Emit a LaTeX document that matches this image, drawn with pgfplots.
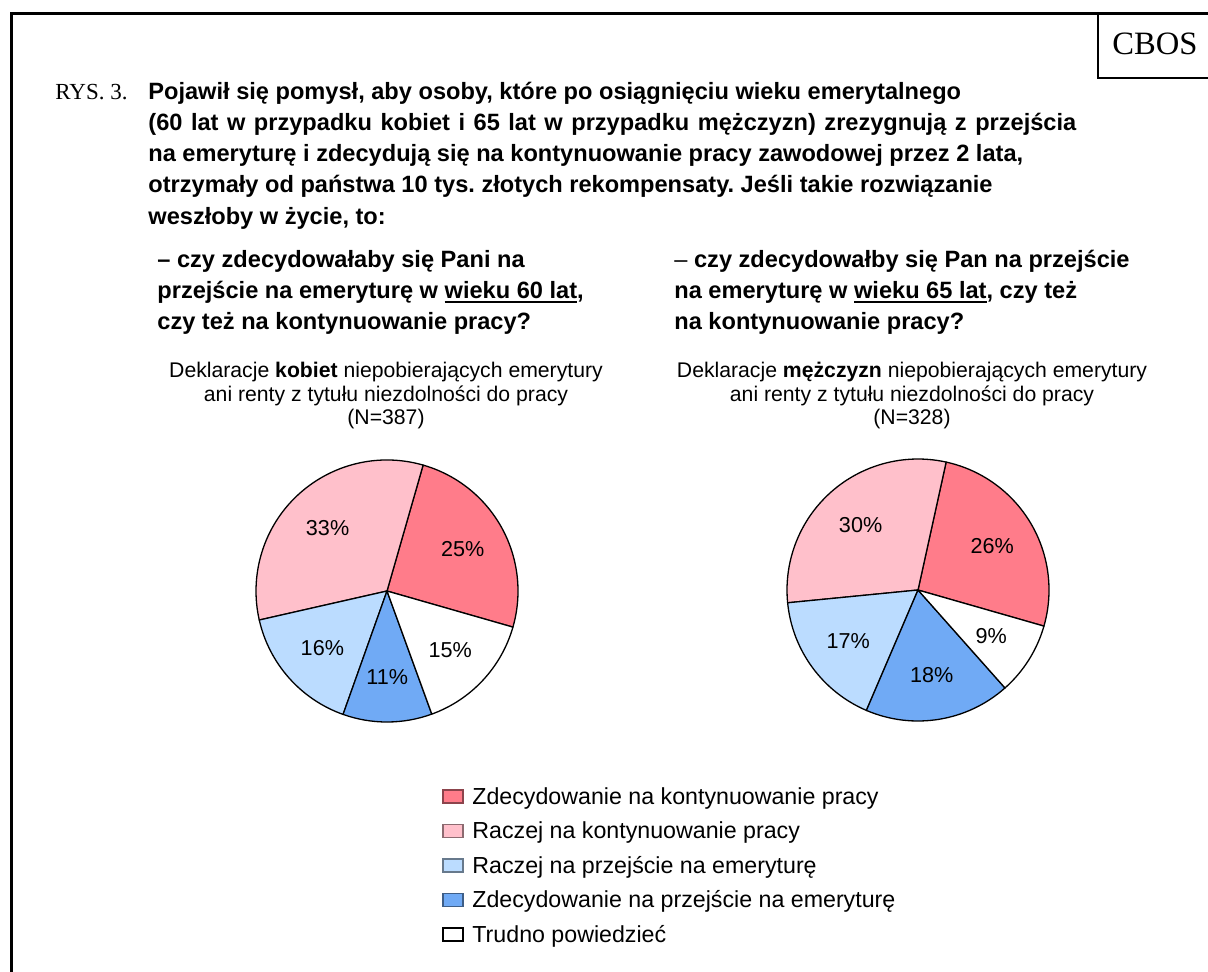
\documentclass[border=0pt]{standalone}
\usepackage{pgfplots}
\pgfplotsset{compat=1.18}
\usepackage{pgfplotstable}
\usepackage{fontspec}
\setmainfont{Liberation Sans}
\newfontfamily\timesf{Liberation Serif}
\frenchspacing

\definecolor{cRed}{RGB}{255,124,138}
\definecolor{cPink}{RGB}{255,192,203}
\definecolor{cLBlue}{RGB}{187,220,255}
\definecolor{cDBlue}{RGB}{112,170,245}

% shares in %, legend order; slices run counter-clockwise from the start angle
\pgfplotstableread{
col    women men
cRed   25    26
cPink  33    30
cLBlue 16    17
cDBlue 11    18
white  15    9
}\piedata

\newcommand{\ul}[1]{\setbox0\hbox{#1}\rlap{\rule[-2.4pt]{\wd0}{1pt}}\box0}
\newcommand{\qfont}{\bfseries\fontsize{11.8}{15.5}\selectfont}
\newcommand{\sfont}{\fontsize{10.6}{12}\selectfont}

\newcommand{\pieaxis}[3]{%
\begin{axis}[at={#1}, anchor=center, width=131pt, height=131pt,
  scale only axis, xmin=-1, xmax=1, ymin=-1, ymax=1, hide axis, clip=false]
  \pgfmathsetmacro\astart{#3}
  \pgfplotsforeachungrouped \i in {0,...,4}{%
    \pgfplotstablegetelem{\i}{#2}\of\piedata
    \let\pval\pgfplotsretval
    \pgfplotstablegetelem{\i}{col}\of\piedata
    \let\pcol\pgfplotsretval
    \pgfmathsetmacro\aend{\astart+3.6*\pval}
    \pgfmathsetmacro\amid{(\astart+\aend)/2}
    \edef\temp{%
      \noexpand\draw[fill=\pcol, line width=0.65pt, line join=round]
        (axis cs:0,0) -- (axis cs:{cos(\astart)},{sin(\astart)})
        arc[start angle=\astart, end angle=\aend, radius=65.5pt] -- cycle;
      \noexpand\node[font=\noexpand\fontsize{10.8}{13}\noexpand\selectfont]
        at (axis cs:{0.66*cos(\amid)},{0.66*sin(\amid)}) {\pval\noexpand\%};
    }%
    \temp
    \let\astart\aend
  }
\end{axis}}

\begin{document}
\begin{tikzpicture}[x=0.5pt, y=0.5pt]
\path[use as bounding box] (0,0) rectangle (1208,971);

% frame and CBOS box
\draw[line width=1.5pt] (11,-20) -- (11,957) -- (1230,957);
\draw[line width=1pt] (1098,957) -- (1098,893) -- (1230,893);
\node[font=\timesf\fontsize{16.3}{19}\selectfont] at (1155,927) {CBOS};

% title
\node[anchor=base west, inner sep=0, font=\timesf\fontsize{11.5}{14}\selectfont] at (55,871) {RYS. 3.};
\begin{scope}[every node/.style={anchor=base west, inner sep=0, font=\qfont}]
\node at (148,871) {Pojawił się pomysł, aby osoby, które po osiągnięciu wieku emerytalnego};
\node at (148,840) {\spaceskip=1.3\fontdimen2\font plus 1pt (60 lat w przypadku kobiet i 65 lat w przypadku mężczyzn) zrezygnują z przejścia};
\node at (148,809) {na emeryturę i zdecydują się na kontynuowanie pracy zawodowej przez 2 lata,};
\node at (148,778) {otrzymały od państwa 10 tys. złotych rekompensaty. Jeśli takie rozwiązanie};
\node at (148,747) {weszłoby w życie, to:};

\node at (157,704) {– czy zdecydowałaby się Pani na};
\node at (157,673) {przejście na emeryturę w \ul{wieku 60 lat},};
\node at (157,642) {czy też na kontynuowanie pracy?};

\node at (674,704) {{\mdseries –} czy zdecydowałby się Pan na przejście};
\node at (674,673) {na emeryturę w \ul{wieku 65 lat}, czy też};
\node at (674,642) {na kontynuowanie pracy?};
\end{scope}

% subtitles
\begin{scope}[every node/.style={anchor=base, inner sep=0, font=\sfont}]
\node at (386,594) {Deklaracje \textbf{kobiet} niepobierających emerytury};
\node at (386,570) {ani renty z tytułu niezdolności do pracy};
\node at (386,547) {(N=387)};
\node at (912,594) {Deklaracje \textbf{mężczyzn} niepobierających emerytury};
\node at (912,570) {ani renty z tytułu niezdolności do pracy};
\node at (912,547) {(N=328)};
\end{scope}

% pies (centres given in pt: 1 px = 0.5 pt)
\pieaxis{(193.5pt,190pt)}{women}{-16}
\pieaxis{(459pt,190.5pt)}{men}{-16}

% legend
\foreach \c/\d/\t [count=\k from 0] in {
  cRed/cRed!55!black/Zdecydowanie na kontynuowanie pracy,
  cPink/cPink!55!black/Raczej na kontynuowanie pracy,
  cLBlue/cLBlue!55!black/Raczej na przejście na emeryturę,
  cDBlue/cDBlue!55!black/Zdecydowanie na przejście na emeryturę,
  white/black/Trudno powiedzieć}{
  \draw[fill=\c, draw=\d, line width=0.6pt]
    (443,{168-34.5*\k}) rectangle (463,{181-34.5*\k});
  \node[anchor=base west, inner sep=0, font=\fontsize{11.6}{14}\selectfont]
    at (472,{167-34.5*\k}) {\t};
}
\end{tikzpicture}
\end{document}
